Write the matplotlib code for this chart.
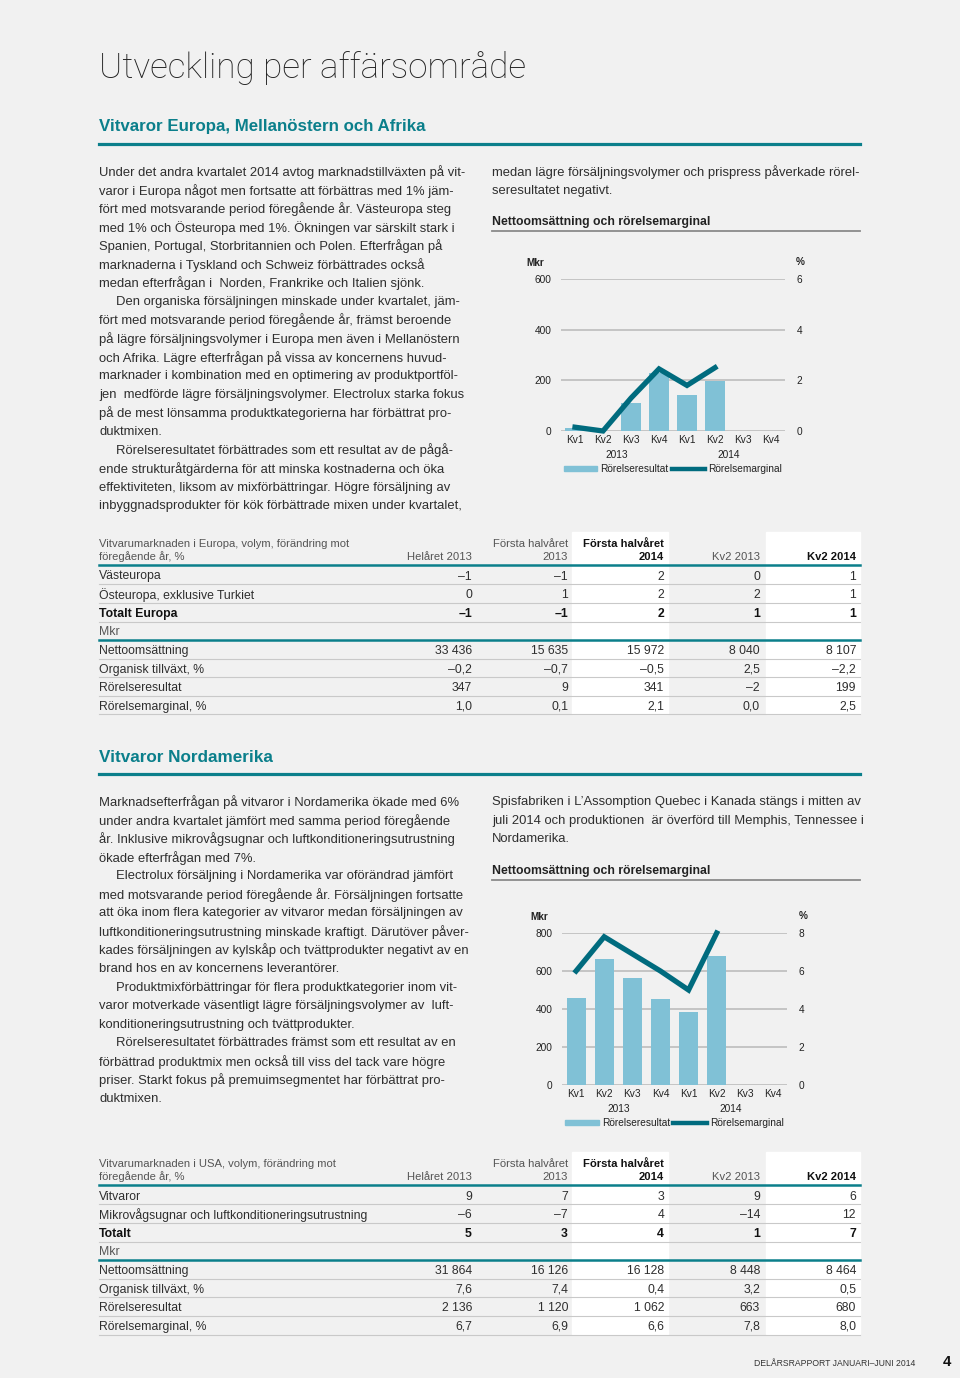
import matplotlib
matplotlib.use('Agg')
import matplotlib.pyplot as plt
from matplotlib import font_manager
from matplotlib.lines import Line2D
from matplotlib.patches import Patch, Rectangle

# ---- data ----
quarters = ['Kv1', 'Kv2', 'Kv3', 'Kv4', 'Kv1', 'Kv2', 'Kv3', 'Kv4']
years = ['2013', '2014']
legend_labels = ['Rörelseresultat', 'Rörelsemarginal']

eu_result = [11, -2, 110, 228, 142, 199]
eu_margin = [0.15, 0.0, 1.3, 2.45, 1.8, 2.5]
eu_ticks = [0, 200, 400, 600]
eu_pct_ticks = [0, 2, 4, 6]

na_result = [457, 663, 561, 455, 382, 680]
na_margin = [6.0, 7.8, 6.9, 6.0, 5.0, 8.0]
na_ticks = [0, 200, 400, 600, 800]
na_pct_ticks = [0, 2, 4, 6, 8]

col_top = ['', 'Första halvåret', 'Första halvåret', '', '']
col_bottom = ['Helåret 2013', '2013', '2014', 'Kv2 2013', 'Kv2 2014']
bold_cols = [2, 4]
fin_rows = ['Nettoomsättning', 'Organisk tillväxt, %', 'Rörelseresultat', 'Rörelsemarginal, %']

eu_table_title = ['Vitvarumarknaden i Europa, volym, förändring mot', 'föregående år, %']
eu_vol_rows = ['Västeuropa', 'Östeuropa, exklusive Turkiet', 'Totalt Europa']
eu_vol = [['–1', '–1', '2', '0', '1'],
          ['0', '1', '2', '2', '1'],
          ['–1', '–1', '2', '1', '1']]
eu_fin = [['33 436', '15 635', '15 972', '8 040', '8 107'],
          ['–0,2', '–0,7', '–0,5', '2,5', '–2,2'],
          ['347', '9', '341', '–2', '199'],
          ['1,0', '0,1', '2,1', '0,0', '2,5']]

na_table_title = ['Vitvarumarknaden i USA, volym, förändring mot', 'föregående år, %']
na_vol_rows = ['Vitvaror', 'Mikrovågsugnar och luftkonditioneringsutrustning', 'Totalt']
na_vol = [['9', '7', '3', '9', '6'],
          ['–6', '–7', '4', '–14', '12'],
          ['5', '3', '4', '1', '7']]
na_fin = [['31 864', '16 126', '16 128', '8 448', '8 464'],
          ['7,6', '7,4', '0,4', '3,2', '0,5'],
          ['2 136', '1 120', '1 062', '663', '680'],
          ['6,7', '6,9', '6,6', '7,8', '8,0']]

eu_left_text = [
    'Under det andra kvartalet 2014 avtog marknadstillväxten på vit-',
    'varor i Europa något men fortsatte att förbättras med 1% jäm-',
    'fört med motsvarande period föregående år. Västeuropa steg',
    'med 1% och Östeuropa med 1%. Ökningen var särskilt stark i',
    'Spanien, Portugal, Storbritannien och Polen. Efterfrågan på',
    'marknaderna i Tyskland och Schweiz förbättrades också',
    'medan efterfrågan i  Norden, Frankrike och Italien sjönk.',
    '\tDen organiska försäljningen minskade under kvartalet, jäm-',
    'fört med motsvarande period föregående år, främst beroende',
    'på lägre försäljningsvolymer i Europa men även i Mellanöstern',
    'och Afrika. Lägre efterfrågan på vissa av koncernens huvud-',
    'marknader i kombination med en optimering av produktportföl-',
    'jen  medförde lägre försäljningsvolymer. Electrolux starka fokus',
    'på de mest lönsamma produktkategorierna har förbättrat pro-',
    'duktmixen.',
    '\tRörelseresultatet förbättrades som ett resultat av de pågå-',
    'ende strukturåtgärderna för att minska kostnaderna och öka',
    'effektiviteten, liksom av mixförbättringar. Högre försäljning av',
    'inbyggnadsprodukter för kök förbättrade mixen under kvartalet,',
]
eu_right_text = [
    'medan lägre försäljningsvolymer och prispress påverkade rörel-',
    'seresultatet negativt.',
]
na_left_text = [
    'Marknadsefterfrågan på vitvaror i Nordamerika ökade med 6%',
    'under andra kvartalet jämfört med samma period föregående',
    'år. Inklusive mikrovågsugnar och luftkonditioneringsutrustning',
    'ökade efterfrågan med 7%.',
    '\tElectrolux försäljning i Nordamerika var oförändrad jämfört',
    'med motsvarande period föregående år. Försäljningen fortsatte',
    'att öka inom flera kategorier av vitvaror medan försäljningen av',
    'luftkonditioneringsutrustning minskade kraftigt. Därutöver påver-',
    'kades försäljningen av kylskåp och tvättprodukter negativt av en',
    'brand hos en av koncernens leverantörer.',
    '\tProduktmixförbättringar för flera produktkategorier inom vit-',
    'varor motverkade väsentligt lägre försäljningsvolymer av  luft-',
    'konditioneringsutrustning och tvättprodukter.',
    '\tRörelseresultatet förbättrades främst som ett resultat av en',
    'förbättrad produktmix men också till viss del tack vare högre',
    'priser. Starkt fokus på premuimsegmentet har förbättrat pro-',
    'duktmixen.',
]
na_right_text = [
    'Spisfabriken i L’Assomption Quebec i Kanada stängs i mitten av',
    'juli 2014 och produktionen  är överförd till Memphis, Tennessee i',
    'Nordamerika.',
]

# ---- style ----
W, H = 960, 1378
BG = '#f1f1f1'
TEAL = '#0b7f8b'
BAR = '#80c1d6'
LINE = '#006b7e'
TXT = '#2e2e2e'
GREY = '#555555'

names = {f.name for f in font_manager.fontManager.ttflist}
BODY = 'Liberation Sans Narrow' if 'Liberation Sans Narrow' in names else 'Liberation Sans'
SANS = 'Liberation Sans'
THIN = 'Roboto' if 'Roboto' in names else 'DejaVu Sans'

fig = plt.figure(figsize=(W / 100, H / 100), dpi=100, facecolor=BG)
renderer = fig.canvas.get_renderer()


def put(x, y, s, size, **kw):
    kw.setdefault('color', TXT)
    kw.setdefault('family', BODY)
    kw.setdefault('va', 'center')
    return fig.text(x / W, 1 - y / H, s, fontsize=size * 0.72, **kw)


def fit(t, width):
    w = t.get_window_extent(renderer).width
    t.set_fontsize(t.get_fontsize() * width / w)


def hline(x0, x1, y, color, lw):
    fig.add_artist(Line2D([x0 / W, x1 / W], [1 - y / H] * 2, color=color,
                          lw=lw, transform=fig.transFigure))


def box(x0, y0, x1, y1, color):
    fig.add_artist(Rectangle((x0 / W, 1 - y1 / H), (x1 - x0) / W, (y1 - y0) / H,
                             transform=fig.transFigure, color=color, zorder=0))


def paragraph(lines, x, y0, size, step=18.56):
    for i, s in enumerate(lines):
        indent = 17 if s.startswith('\t') else 0
        put(x + indent, y0 + i * step, s.lstrip('\t'), size)


# measure body size against the first reference line
probe = put(99, -100, eu_left_text[0], 13.5)
fit(probe, 365)
BODY_PX = probe.get_fontsize() / 0.72
probe.remove()

# ---- headings ----
t = put(99, 68, 'Utveckling per affärsområde', 38, family=THIN, fontweight='light',
        color='#222222')
fit(t, 427)

for y, label, w, line_y in [(127, 'Vitvaror Europa, Mellanöstern och Afrika', 327, 144),
                            (758, 'Vitvaror Nordamerika', 174, 774)]:
    t = put(99, y, label, 17, family=SANS, fontweight='bold', color=TEAL)
    fit(t, w)
    hline(99, 860, line_y, TEAL, 2.3)

paragraph(eu_left_text, 99, 172, BODY_PX)
paragraph(eu_right_text, 492, 172, BODY_PX)
paragraph(na_left_text, 99, 802, BODY_PX)
paragraph(na_right_text, 492, 802, BODY_PX)

for y in (222, 871):
    t = put(492, y, 'Nettoomsättning och rörelsemarginal', 12.5, family=SANS,
            fontweight='bold', color='#222222')
    fit(t, 217)
    hline(492, 860, y + 9, '#8a8a8a', 1.3)


# ---- charts ----
def chart(x0, x1, y_top, y_bot, result, margin, ticks, pct_ticks, mkr_x, pct_x):
    ax = fig.add_axes([x0 / W, 1 - y_bot / H, (x1 - x0) / W, (y_bot - y_top) / H])
    ax.set_facecolor('none')
    ax2 = ax.twinx()
    ax.bar(range(len(result)), result, width=0.68, color=BAR, zorder=2)
    ax2.plot(range(len(margin)), margin, color=LINE, lw=3.8, clip_on=False,
             solid_joinstyle='miter', zorder=3)
    ax.set_xlim(-0.5, len(quarters) - 0.5)
    ax.set_ylim(ticks[0], ticks[-1])
    ax2.set_ylim(pct_ticks[0], pct_ticks[-1])
    ax.set_yticks(ticks)
    ax2.set_yticks(pct_ticks)
    ax.set_xticks(range(len(quarters)), quarters)
    ax.grid(axis='y', color='#b8b8b8', lw=1.1, zorder=0)
    for a in (ax, ax2):
        for sp in a.spines.values():
            sp.set_visible(False)
        a.tick_params(length=0, labelsize=7.3, labelcolor='#222222')
        for lab in a.get_xticklabels() + a.get_yticklabels():
            lab.set_family(SANS)
    ax.tick_params(axis='y', pad=7)
    ax2.tick_params(axis='y', pad=8.5)
    ax.tick_params(axis='x', pad=3)
    ax2.set_zorder(ax.get_zorder() + 1)
    h = y_bot - y_top
    for i, yr in enumerate(years):
        ax.text(1.5 + 4 * i, -24 / h, yr, transform=ax.get_xaxis_transform(),
                ha='center', va='center', fontsize=7.3, family=SANS, color='#222222')
    ax.legend([Patch(color=BAR), Line2D([], [], color=LINE, lw=3.2)], legend_labels,
              loc='center', bbox_to_anchor=(0.5, -38 / h), ncol=2, frameon=False,
              handlelength=3.3, handleheight=0.5, handletextpad=0.3, columnspacing=0.3,
              prop={'family': SANS, 'size': 7.3}, labelcolor='#222222')
    put(mkr_x, y_top - 16, 'Mkr', 10, family=SANS, fontweight='bold', ha='center',
        color='#222222')
    put(pct_x, y_top - 17, '%', 10, family=SANS, fontweight='bold', ha='center',
        color='#222222')


chart(561, 785, 279, 431, eu_result, eu_margin, eu_ticks, eu_pct_ticks, 535, 800)
chart(562, 787, 933, 1085, na_result, na_margin, na_ticks, na_pct_ticks, 539, 803)


# ---- tables ----
COL_R = [472, 568, 664, 760, 856]


def table(y0, title, vol_rows, vol, fin):
    box(572, y0 - 11, 668, y0 + 171, 'white')
    box(766, y0 - 11, 860, y0 + 171, 'white')
    put(99, y0 + 1, title[0], 11.3, color=GREY)
    put(99, y0 + 14, title[1], 11.3, color=GREY)
    for c, xr in enumerate(COL_R):
        bold = c in bold_cols
        kw = dict(family=SANS, fontweight='bold', color='#111111') if bold else dict(color=GREY)
        if col_top[c]:
            put(xr, y0 + 1, col_top[c], 11.3, ha='right', **kw)
        put(xr, y0 + 14, col_bottom[c], 11.3, ha='right', **kw)
    hline(99, 860, y0 + 22, TEAL, 1.8)
    step = 18.6
    ys = [y0 + 33.5 + i * step for i in range(8)]
    rows = vol_rows + ['Mkr'] + fin_rows
    cells = vol + [[''] * 5] + fin
    for i, (label, vals) in enumerate(zip(rows, cells)):
        bold = i == 2
        kw = dict(family=SANS, fontweight='bold', color='#111111') if bold else dict(color=TXT)
        if label == 'Mkr':
            kw = dict(color=GREY)
        put(99, ys[i], label, 12.2, **kw)
        for xr, v in zip(COL_R, vals):
            put(xr, ys[i], v, 12.2, ha='right', **kw)
        sep = ys[i] - 1.5 + step / 2
        if i == 3:
            hline(99, 860, sep, TEAL, 1.8)
        elif i < 7:
            hline(99, 860, sep, '#c9c9c9', 0.8)
    hline(99, 860, ys[-1] - 1.5 + step / 2, '#c9c9c9', 0.8)


table(543, eu_table_title, eu_vol_rows, eu_vol, eu_fin)
table(1163, na_table_title, na_vol_rows, na_vol, na_fin)

# ---- footer ----
t = put(915, 1364, 'DELÅRSRAPPORT JANUARI–JUNI 2014', 8, family=SANS, ha='right',
        color='#333333')
fit(t, 160)
put(951, 1362, '4', 15, family=SANS, fontweight='bold', ha='right', color='#111111')

fig.savefig('out.png', dpi=100, facecolor=BG)
